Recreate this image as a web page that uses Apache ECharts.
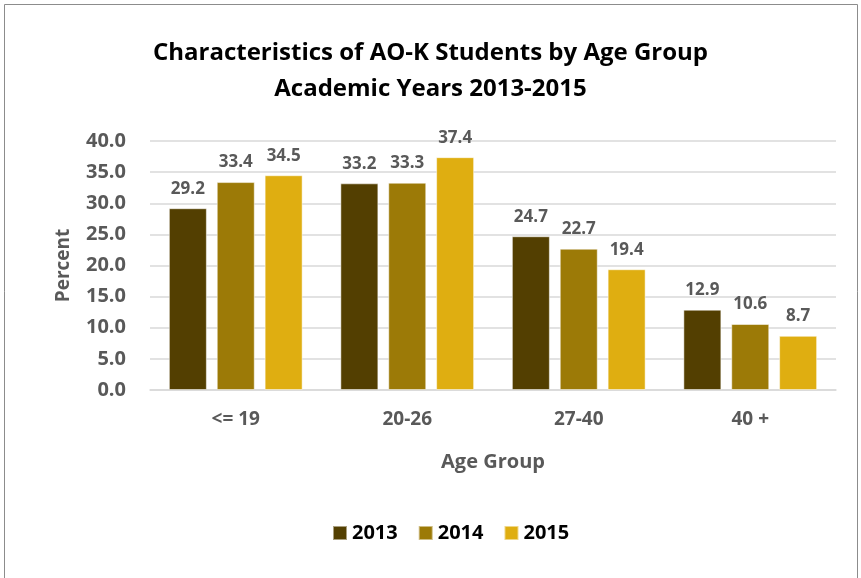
<!DOCTYPE html>
<html>
<head>
<meta charset="utf-8">
<script src="https://cdn.jsdelivr.net/npm/echarts@6/dist/echarts.min.js"></script>
<style>
  body { margin: 0; background: #fff; }
  #chart { width: 861px; height: 578px; }
</style>
</head>
<body>
<div id="chart"></div>
<script>
var categories = ['<= 19', '20-26', '27-40', '40 +'];
var years = ['2013', '2014', '2015'];
var v2013 = [29.2, 33.2, 24.7, 12.9];
var v2014 = [33.4, 33.3, 22.7, 10.6];
var v2015 = [34.5, 37.4, 19.4, 8.7];
var colors = ['#533f01', '#9c7a07', '#dfae11'];

var font = 'Open Sans';
var chart = echarts.init(document.getElementById('chart'));

function makeSeries(name, data, color) {
  return {
    name: name,
    type: 'bar',
    data: data,
    barWidth: 38,
    barGap: '26%',
    itemStyle: { color: color, borderColor: 'rgba(255,255,255,0.5)', borderWidth: 1 },
    label: {
      show: true,
      position: 'top',
      distance: 11,
      formatter: function (p) { return p.value.toFixed(1); },
      color: '#595959',
      fontFamily: font,
      fontWeight: 'bold',
      fontSize: 17
    }
  };
}

var option = {
  backgroundColor: '#fff',
  animation: false,
  graphic: [{
    type: 'rect',
    shape: { x: 4.5, y: 4.5, width: 853, height: 590 },
    style: { fill: 'none', stroke: '#8c8c8c', lineWidth: 1 }
  }],
  title: {
    text: 'Characteristics of AO-K Students by Age Group\nAcademic Years 2013-2015',
    left: 'center',
    top: 30,
    textStyle: {
      fontFamily: font,
      fontWeight: 'bold',
      fontSize: 24,
      lineHeight: 36,
      color: '#000'
    }
  },
  legend: {
    data: years,
    bottom: 30,
    left: 327,
    itemWidth: 14,
    itemHeight: 14,
    itemGap: 20,
    icon: 'rect',
    textStyle: { fontFamily: font, fontWeight: 'bold', fontSize: 20, color: '#000' }
  },
  grid: { left: 150, right: 25, top: 141, bottom: 188 },
  xAxis: {
    type: 'category',
    data: categories,
    name: 'Age Group',
    nameLocation: 'middle',
    nameGap: 62,
    nameTextStyle: { fontFamily: font, fontWeight: 'bold', fontSize: 20, color: '#595959' },
    axisTick: { show: false },
    axisLine: { lineStyle: { color: '#d9d9d9', width: 1.5 } },
    axisLabel: { margin: 20, fontFamily: font, fontWeight: 'bold', fontSize: 19, color: '#595959' }
  },
  yAxis: {
    type: 'value',
    min: 0,
    max: 40,
    interval: 5,
    name: 'Percent',
    nameLocation: 'middle',
    nameGap: 77,
    nameTextStyle: { fontFamily: font, fontWeight: 'bold', fontSize: 19, color: '#595959' },
    axisLine: { show: false },
    axisTick: { show: false },
    splitLine: { lineStyle: { color: '#d9d9d9', width: 1.5 } },
    axisLabel: {
      margin: 24,
      formatter: function (v) { return v.toFixed(1); },
      fontFamily: font, fontWeight: 'bold', fontSize: 20, color: '#595959'
    }
  },
  series: [
    makeSeries(years[0], v2013, colors[0]),
    makeSeries(years[1], v2014, colors[1]),
    makeSeries(years[2], v2015, colors[2])
  ]
};

chart.setOption(option);
</script>
</body>
</html>
